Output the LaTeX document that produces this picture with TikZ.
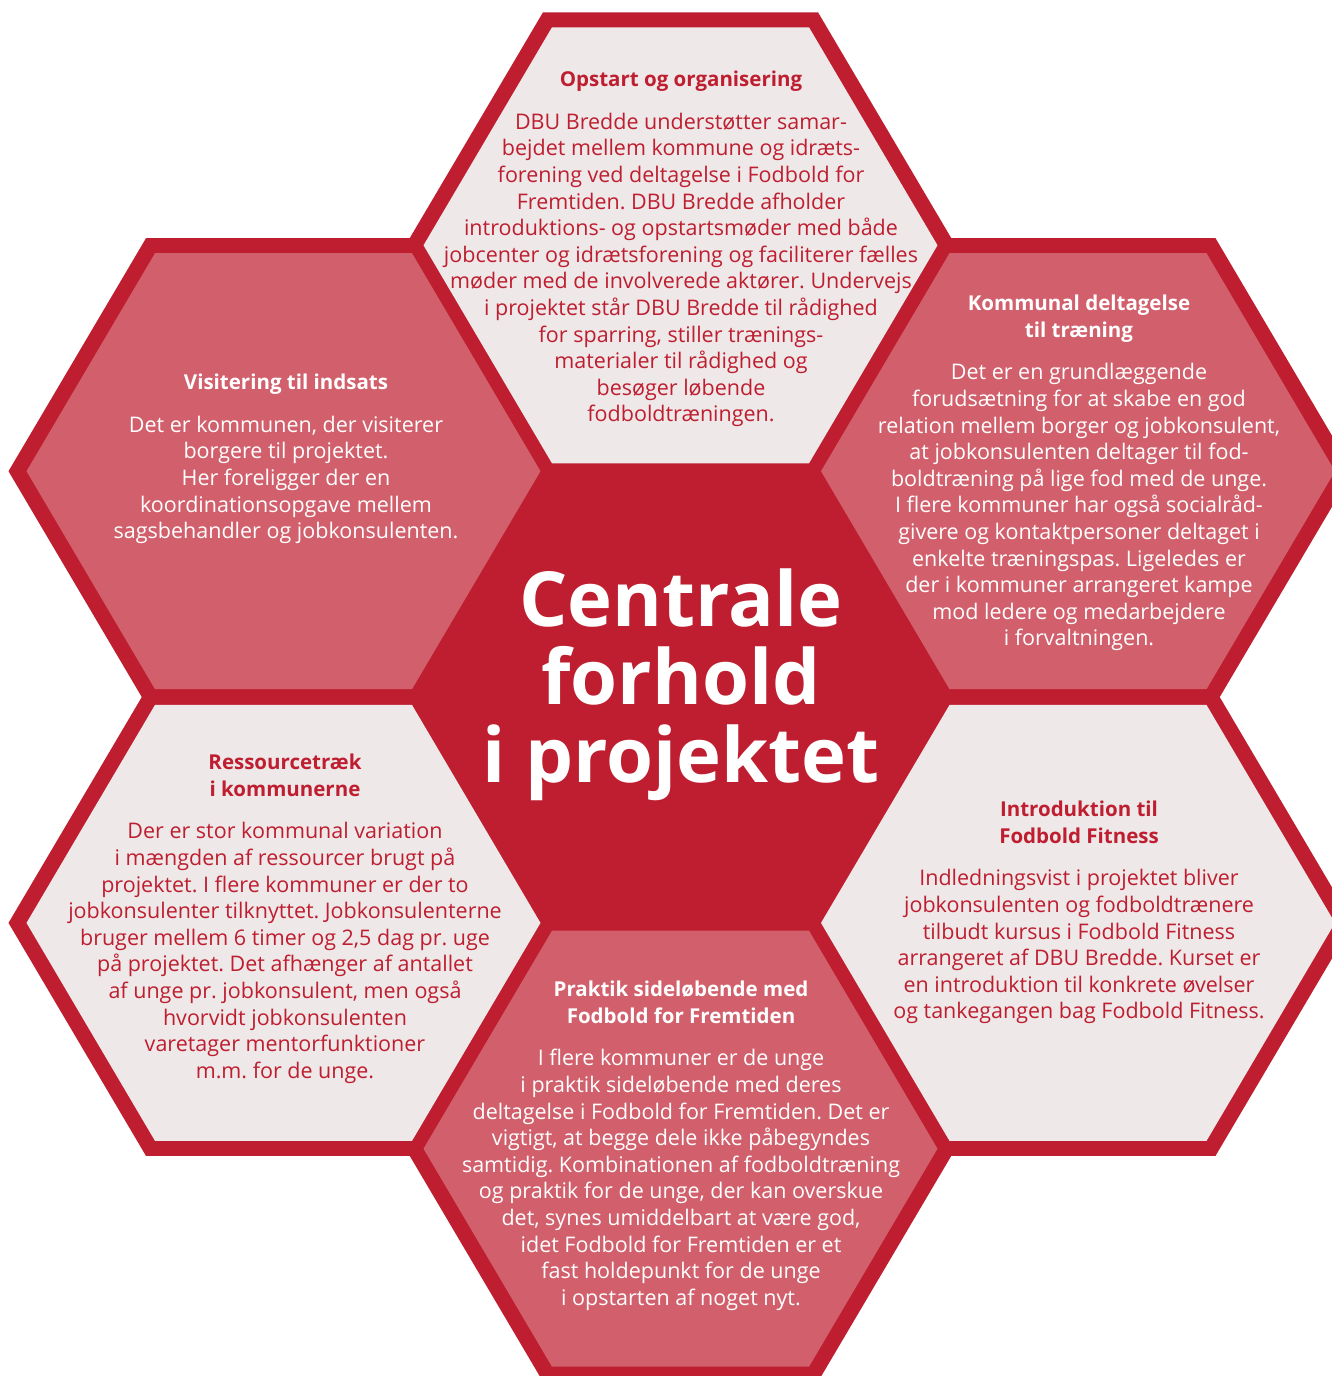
\documentclass[tikz,border=0pt]{standalone}
\usepackage{fontspec}
\setmainfont{Open Sans}
\frenchspacing
\definecolor{dred}{HTML}{BE1E2F}
\definecolor{pinkfill}{HTML}{D1606C}
\definecolor{lightfill}{HTML}{EEE8E9}
\newcommand{\hd}[1]{{\fontsize{20.5}{26.6}\selectfont\bfseries #1}}
\begin{document}
\begin{tikzpicture}[x=1pt,y=-1pt,
	body/.style={align=center,anchor=north,inner sep=0pt,font=\fontsize{21.5}{26.6}\selectfont},
	onlight/.style={body,text=dred},
	onpink/.style={body,text=white}]
	\useasboundingbox (0,0) rectangle (1332,1376);
	\foreach \cx/\cy in {680.5/245.3,283.5/471.2,1078/471.2,680.5/697,283.5/922.9,1078/922.9,680.5/1148.7}
		\fill[dred] (\cx-275,\cy)--(\cx-137.5,\cy-233)--(\cx+137.5,\cy-233)--(\cx+275,\cy)--(\cx+137.5,\cy+233)--(\cx-137.5,\cy+233)--cycle;
	\foreach \cx/\cy/\tone in {680.5/245.3/lightfill,283.5/471.2/pinkfill,1078/471.2/pinkfill,283.5/922.9/lightfill,1078/922.9/lightfill,680.5/1148.7/pinkfill}
		\fill[fill=\tone] (\cx-257,\cy)--(\cx-128.5,\cy-218)--(\cx+128.5,\cy-218)--(\cx+257,\cy)--(\cx+128.5,\cy+218)--(\cx-128.5,\cy+218)--cycle;
	\node[onlight] (opstart) at (681,71) {\hd{Opstart og organisering}\\[16pt]
		DBU Bredde understøtter samar-\\bejdet mellem kommune og idræts-\\forening ved deltagelse i Fodbold for\\Fremtiden. DBU Bredde afholder\\introduktions- og opstartsmøder med både\\jobcenter og idrætsforening og faciliterer fælles\\møder med de involverede aktører. Undervejs\\i projektet står DBU Bredde til rådighed\\for sparring, stiller trænings-\\materialer til rådighed og\\besøger løbende\\fodboldtræningen.};
	\node[onpink] (visitering) at (286,374) {\hd{Visitering til indsats}\\[16pt]
		Det er kommunen, der visiterer\\borgere til projektet.\\Her foreligger der en\\koordinationsopgave mellem\\sagsbehandler og jobkonsulenten.};
	\node[onpink] (kommunal) at (1079,295) {\hd{Kommunal deltagelse}\\\hd{til træning}\\[16pt]
		Det er en grundlæggende\\forudsætning for at skabe en god\\relation mellem borger og jobkonsulent,\\at jobkonsulenten deltager til fod-\\boldtræning på lige fod med de unge.\\I flere kommuner har også socialråd-\\givere og kontaktpersoner deltaget i\\enkelte træningspas. Ligeledes er\\der i kommuner arrangeret kampe\\mod ledere og medarbejdere\\i forvaltningen.};
	\node[onlight] (ressource) at (285,754) {\hd{Ressourcetræk}\\\hd{i kommunerne}\\[16pt]
		Der er stor kommunal variation\\i mængden af ressourcer brugt på\\projektet. I flere kommuner er der to\\jobkonsulenter tilknyttet. Jobkonsulenterne\\bruger mellem 6 timer og 2,5 dag pr. uge\\på projektet. Det afhænger af antallet\\af unge pr. jobkonsulent, men også\\hvorvidt jobkonsulenten\\varetager mentorfunktioner\\m.m. for de unge.};
	\node[onlight] (fitness) at (1079,801) {\hd{Introduktion til}\\\hd{Fodbold Fitness}\\[16pt]
		Indledningsvist i projektet bliver\\jobkonsulenten og fodboldtrænere\\tilbudt kursus i Fodbold Fitness\\arrangeret af DBU Bredde. Kurset er\\en introduktion til konkrete øvelser\\og tankegangen bag Fodbold Fitness.};
	\node[onpink] (praktik) at (681,981) {\hd{Praktik sideløbende med}\\\hd{Fodbold for Fremtiden}\\[16pt]
		I flere kommuner er de unge\\i praktik sideløbende med deres\\deltagelse i Fodbold for Fremtiden. Det er\\vigtigt, at begge dele ikke påbegyndes\\samtidig. Kombinationen af fodboldtræning\\og praktik for de unge, der kan overskue\\det, synes umiddelbart at være god,\\idet Fodbold for Fremtiden er et\\fast holdepunkt for de unge\\i opstarten af noget nyt.};
	\node[text=white,align=center,inner sep=0pt,font=\fontsize{76}{78}\selectfont\bfseries] (centrale) at (681,685) {Centrale\\forhold\\i projektet};
\end{tikzpicture}
\end{document}
